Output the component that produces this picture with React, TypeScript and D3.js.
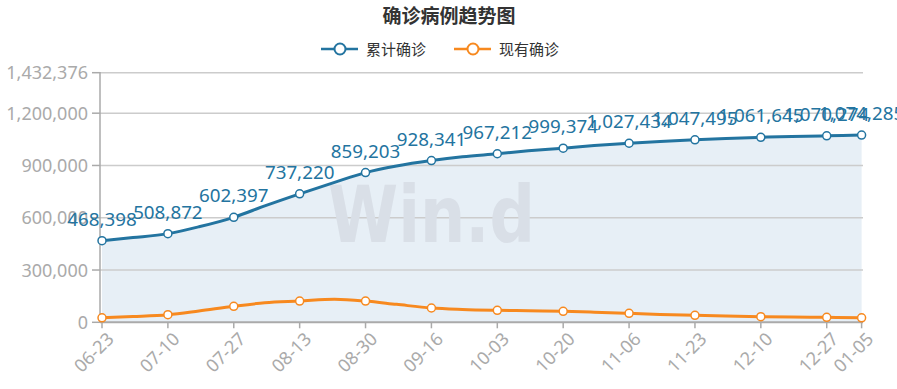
import React from "react";
import * as d3 from "d3";

const sampleDates = ["06-23", "07-01", "07-10", "07-18", "07-27", "08-04", "08-13", "08-22", "08-30", "09-07", "09-16", "09-24",
    "10-03", "10-11", "10-20", "10-28", "11-06", "11-14", "11-23", "12-01", "12-10", "12-18", "12-27", "01-05"];
const cumulative = [468398, 486000, 508872, 548000, 602397, 668000, 737220, 803000, 859203, 897000, 928341, 950000,
    967212, 984000, 999374, 1014000, 1027434, 1038000, 1047495, 1055000, 1061645, 1066500, 1070274, 1074285];
const active = [26000, 33000, 43500, 65000, 92000, 112000, 122000, 132000, 122000, 103000, 82000, 74000,
    69000, 66000, 63000, 58000, 51500, 45000, 40000, 36000, 32000, 30000, 28600, 26000];
const tickLabels = ["06-23", "07-10", "07-27", "08-13", "08-30", "09-16", "10-03", "10-20", "11-06", "11-23", "12-10", "12-27", "01-05"];
const yTicks = [0, 300000, 600000, 900000, 1200000, 1432376];
const seriesNames = ["累计确诊", "现有确诊"];

const blue = "#2374a0";
const orange = "#f7891f";
const grey = "#aaaaaa";
const font = "'Noto Sans', 'Noto Sans CJK SC', sans-serif";

const parse = (s: string) => {
    const [m, d] = s.split("-").map(Number);
    return new Date(m >= 6 ? 2020 : 2021, m - 1, d);
};

interface Pt { date: Date; label: string; total: number; now: number }

const data: Pt[] = sampleDates.map((s, i) => ({ date: parse(s), label: s, total: cumulative[i], now: active[i] }));

const App: React.FC = () => {
    const width = 897, height = 389;
    const left = 100, right = 863;

    const x = d3.scaleTime()
        .domain([parse(tickLabels[0]), parse(tickLabels[tickLabels.length - 1])])
        .range([102, 861.6]);
    const y = d3.scaleLinear().domain([0, 1432376]).range([322.3, 72.7]);

    const lineTotal = d3.line<Pt>().x(d => x(d.date)).y(d => y(d.total)).curve(d3.curveMonotoneX);
    const lineNow = d3.line<Pt>().x(d => x(d.date)).y(d => y(d.now)).curve(d3.curveMonotoneX);
    const area = d3.area<Pt>().x(d => x(d.date)).y0(y(0)).y1(d => y(d.total)).curve(d3.curveMonotoneX);

    const marked = data.filter(d => tickLabels.includes(d.label));
    const fmt = d3.format(",");

    return (
        <svg width={width} height={height} style={{ position: "absolute", left: 0, top: 0 }} fontFamily={font}>
            <rect width={width} height={height} fill="#fff" />
            <text x={449} y={23} textAnchor="middle" fontSize={19} fontWeight="bold" fill="#333"
                  fontFamily="'Noto Sans CJK SC', sans-serif">确诊病例趋势图</text>

            {/* legend */}
            {[blue, orange].map((c, i) => {
                const lx = 321 + i * 133;
                return (
                    <g key={i}>
                        <line x1={lx} x2={lx + 37} y1={49} y2={49} stroke={c} strokeWidth={2.5} />
                        <circle cx={lx + 19} cy={49} r={5.5} fill="#fff" stroke={c} strokeWidth={2} />
                        <text x={lx + 45} y={54.5} fontSize={15} fill="#333"
                              fontFamily="'Noto Sans CJK SC', sans-serif">{seriesNames[i]}</text>
                    </g>
                );
            })}

            <path d={area(data) || ""} fill="#e7eff6" />

            {/* grid + y axis */}
            {yTicks.map(t => (
                <g key={t}>
                    {t > 0 && <line x1={left} x2={right} y1={y(t)} y2={y(t)} stroke="#cccccc" strokeWidth={1.5} />}
                    <line x1={92} x2={left} y1={y(t)} y2={y(t)} stroke={grey} strokeWidth={1.5} />
                    <text x={88} y={y(t)} dy="0.36em" textAnchor="end" fontSize={18} fill={grey}>{fmt(t)}</text>
                </g>
            ))}
            <text x={328} y={242} fontSize={78} fontWeight="bold" fill="#d9dfe7" textLength={207}
                  lengthAdjust="spacingAndGlyphs" fontFamily="'DejaVu Sans', sans-serif">Win.d</text>

            <line x1={left} x2={left} y1={72} y2={y(0)} stroke={grey} strokeWidth={1.5} />
            <line x1={left} x2={right} y1={y(0)} y2={y(0)} stroke={grey} strokeWidth={2} />

            {/* x ticks */}
            {tickLabels.map(l => {
                const px = x(parse(l));
                return (
                    <g key={l}>
                        <line x1={px} x2={px} y1={y(0)} y2={y(0) + 6} stroke={grey} strokeWidth={1.5} />
                        <text transform={`translate(${px + 4},${y(0) + 9}) rotate(-45)`} textAnchor="end"
                              dy="0.7em" fontSize={18} fill={grey}>{l}</text>
                    </g>
                );
            })}

            <path d={lineTotal(data) || ""} fill="none" stroke={blue} strokeWidth={3} />
            <path d={lineNow(data) || ""} fill="none" stroke={orange} strokeWidth={3} />

            {marked.map(d => (
                <g key={d.label}>
                    <circle cx={x(d.date)} cy={y(d.total)} r={4} fill="#fff" stroke={blue} strokeWidth={1.5} />
                    <circle cx={x(d.date)} cy={y(d.now)} r={4} fill="#fff" stroke={orange} strokeWidth={1.5} />
                </g>
            ))}
            {marked.map(d => (
                <text key={d.label} x={x(d.date)} y={y(d.total) - 15} textAnchor="middle" fontSize={18.8}
                      fill={blue}>{fmt(d.total)}</text>
            ))}
        </svg>
    );
};

export default App;
